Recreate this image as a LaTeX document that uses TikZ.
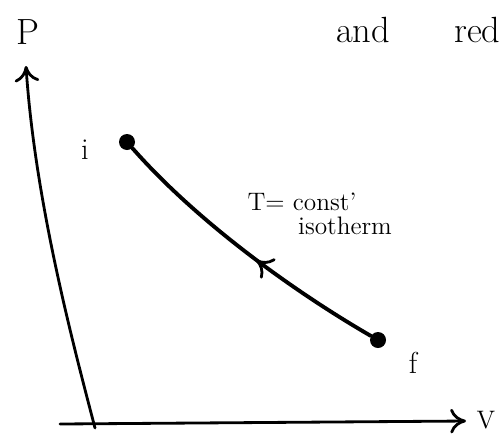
\documentclass[tikz,border=0pt]{standalone}
\usetikzlibrary{arrows.meta,decorations.markings}
\tikzset{
  axis/.style={line width=1.6pt, line cap=round},
  curve/.style={line width=2.2pt, line cap=round},
  dot/.style={circle, fill, inner sep=0pt, minimum size=0.32cm},
}
\begin{document}
\begin{tikzpicture}[x=0.02cm, y=-0.02cm, >={To[length=9pt,width=14pt,line width=1.6pt]}, font=\Large]
\useasboundingbox (0,0) rectangle (502,433);

% axes
\coordinate (O) at (95,428);
\coordinate (Ptop) at (26,66);
\coordinate (Vleft) at (60,424);
\coordinate (Vend) at (466,421);
\draw[axis, ->] (O) .. controls (72,340) and (35,200) .. (Ptop);
\draw[axis, ->] (Vleft) -- (Vend);
\node[font=\huge] (P) at (28,32) {P};
\node[font=\Large] (V) at (486,420) {V};

% text at top
\node[font=\huge, anchor=base west] (and) at (330,42) {and};
\node[font=\huge, anchor=base west] (red) at (448,42) {red};

% states i and f
\node[dot] (i) at (127,142) {};
\node[dot] (f) at (378,340) {};
\node[font=\LARGE] (ilbl) at (85,150) {i};
\node[font=\LARGE] (flbl) at (413,363) {f};

% isotherm
\draw[curve, decoration={markings, mark=at position 0.6 with {\arrow{<}}}, postaction={decorate}]
  (i) .. controls (200,225) and (300,295) .. (f);
\node (T) at (302,202) {T= const'};
\node (iso) at (345,226) {isotherm};

\end{tikzpicture}
\end{document}
